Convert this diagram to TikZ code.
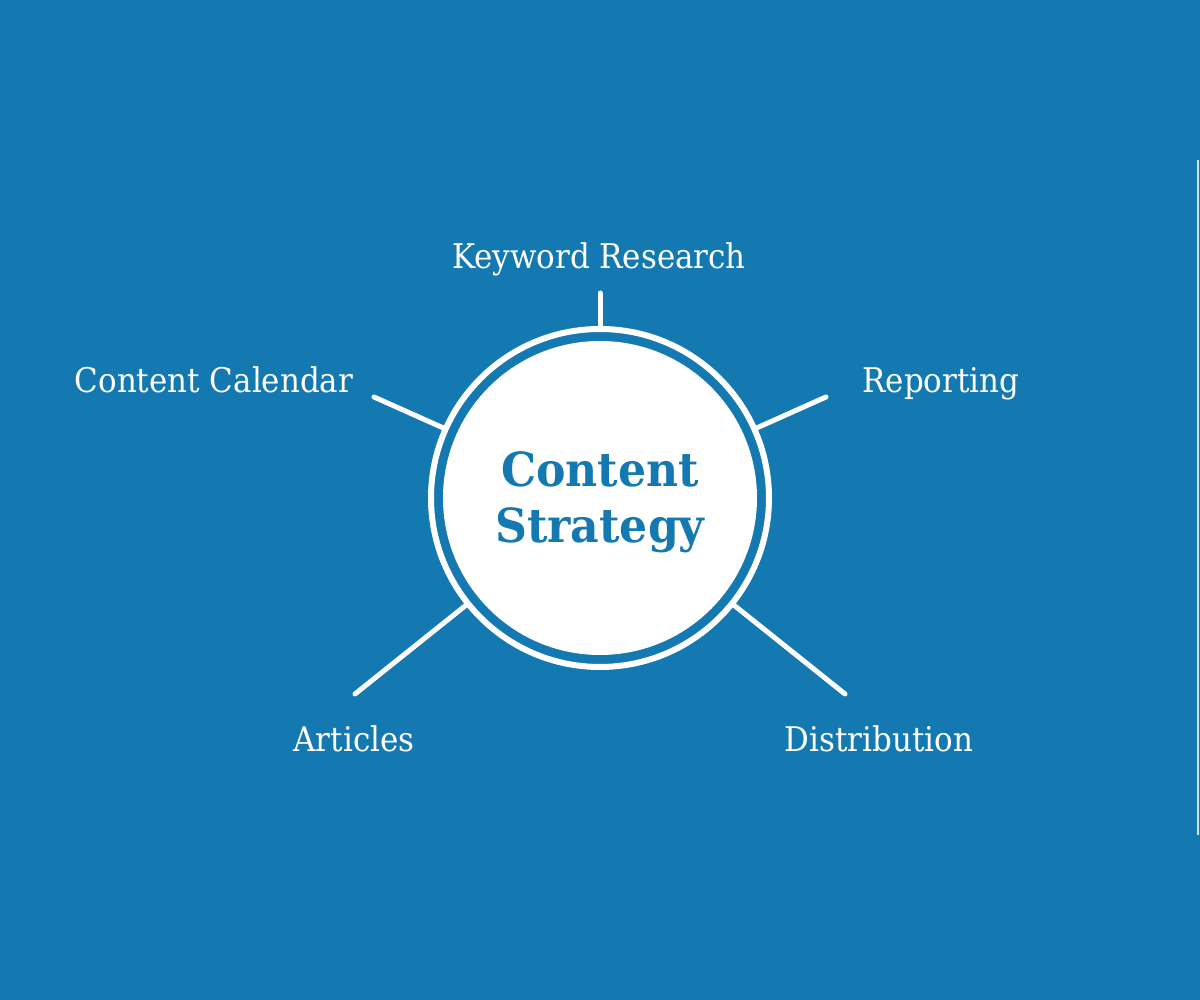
\documentclass[tikz,border=0pt]{standalone}
\usepackage{fontspec}
\setmainfont{DejaVu Serif}
\definecolor{fondo}{HTML}{1479B1}
\begin{document}
\begin{tikzpicture}[x=1pt,y=1pt,
    raggio/.style={draw=white,line width=5pt,line cap=round},
    voce/.style={text=white,anchor=base,inner sep=0pt,
      font=\fontsize{34}{40}\selectfont\addfontfeature{FakeStretch=0.91}}]
    % Sfondo
    \fill[fondo] (0,0) rectangle (1200,1000);
    \draw[white!80!fondo,line width=2pt] (1198,165) -- (1198,840);
    % Cerchio centrale
    \node[circle,draw=white,line width=6pt,minimum size=338pt,inner sep=0pt] (anello) at (600,502) {};
    \node[circle,fill=white,minimum size=314pt,inner sep=0pt] (centro) at (600,502) {};
    \node[text=fondo,align=center,inner sep=0pt,
      font=\bfseries\fontsize{47}{56}\selectfont\addfontfeature{FakeStretch=0.94}] (titolo) at (600,498) {Content\\Strategy};
    % Estremi dei raggi
    \coordinate (kw) at (600,707);
    \coordinate (cal) at (374,603);
    \coordinate (rep) at (826,603);
    \coordinate (art) at (355,306);
    \coordinate (dis) at (845,306);
    \foreach \p in {kw,cal,rep,art,dis}
        \draw[raggio] (anello) -- (\p);
    % Etichette
    \node[voce] (kwtxt) at (599,731) {Keyword Research};
    \node[voce] (caltxt) at (214,607) {Content Calendar};
    \node[voce] (reptxt) at (941,607) {Reporting};
    \node[voce] (arttxt) at (354,248) {Articles};
    \node[voce] (distxt) at (879,248) {Distribution};
\end{tikzpicture}
\end{document}
